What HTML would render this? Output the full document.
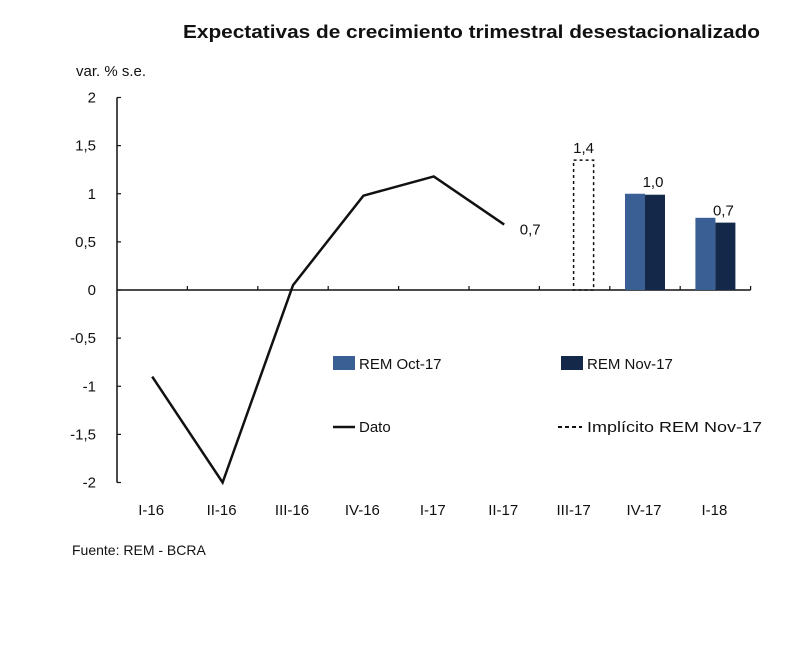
<!DOCTYPE html>
<html><head><meta charset="utf-8"><style>
body{margin:0;background:#fff}
svg{display:block;font-family:"Liberation Sans",sans-serif}
</style></head><body>
<svg width="800" height="665" id="chart">
<text x="183" y="38" font-size="18" font-weight="bold" fill="#111" textLength="577" lengthAdjust="spacingAndGlyphs">Expectativas de crecimiento trimestral desestacionalizado</text>
<text x="76" y="76" font-size="15" fill="#111">var. % s.e.</text>
<text x="72" y="555" font-size="14" fill="#111">Fuente: REM - BCRA</text>
<g id="axes"></g><g id="marks"></g>
<g>
<rect x="333" y="356" width="22" height="14" fill="#3a5f95"/>
<text x="359" y="369" font-size="15" fill="#111">REM Oct-17</text>
<rect x="561" y="356" width="22" height="14" fill="#14284a"/>
<text x="587" y="369" font-size="15" fill="#111">REM Nov-17</text>
<line x1="333" y1="427" x2="355" y2="427" stroke="#111" stroke-width="2.5"/>
<text x="359" y="432" font-size="15" fill="#111">Dato</text>
<line x1="558" y1="427" x2="582" y2="427" stroke="#111" stroke-width="2" stroke-dasharray="4,3"/>
<text x="587" y="432" font-size="15" fill="#111" textLength="175" lengthAdjust="spacingAndGlyphs">Implícito REM Nov-17</text>
</g>
</svg>
<script>
const categories=["I-16","II-16","III-16","IV-16","I-17","II-17","III-17","IV-17","I-18"];
const datoValues=[-0.9,-2.0,0.05,0.98,1.18,0.68];
const octValues=[null,null,null,null,null,null,null,1.0,0.75];
const novValues=[null,null,null,null,null,null,null,0.99,0.70];
const implicitValues=[null,null,null,null,null,null,1.35,null,null];
const yTicks=[2,1.5,1,0.5,0,-0.5,-1,-1.5,-2];
const yTickLabels=["2","1,5","1","0,5","0","-0,5","-1","-1,5","-2"];
const barLabels=[null,null,null,null,null,"0,7","1,4","1,0","0,7"];

const NS="http://www.w3.org/2000/svg";
const X0=117,CW=70.4;
const y=v=>290-v*96.25;
const xc=i=>X0+CW*(i+0.5);
function mk(tag,attrs,parent,text){const e=document.createElementNS(NS,tag);for(const k in attrs)e.setAttribute(k,attrs[k]);if(text!=null)e.textContent=text;parent.appendChild(e);return e;}
const axes=document.getElementById('axes'),marks=document.getElementById('marks');
let e=mk('line',{x1:X0,y1:y(2),x2:X0,y2:y(-2),stroke:'#111','stroke-width':1.5},axes);


e=mk('line',{x1:X0,y1:y(0),x2:X0+CW*categories.length,y2:y(0),stroke:'#111','stroke-width':1.5},axes);


yTicks.forEach((t,i)=>{
 mk('line',{x1:X0,y1:y(t),x2:X0+4,y2:y(t),stroke:'#111','stroke-width':1.2},axes);
 const l=mk('text',{x:96,y:y(t)+5,'font-size':15,'text-anchor':'end',fill:'#111'},axes,yTickLabels[i]);
 
 
});
categories.forEach((c,i)=>{
 const bx=X0+CW*(i+1);
 mk('line',{x1:bx,y1:y(0),x2:bx,y2:y(0)-4,stroke:'#111','stroke-width':1.2},axes);
 const l=mk('text',{x:xc(i)-1,y:515,'font-size':15,'text-anchor':'middle',fill:'#111'},axes,c);
 
 
});
categories.forEach((c,i)=>{
 if(octValues[i]!=null){const r=mk('rect',{x:xc(i)-20,y:y(octValues[i]),width:20,height:y(0)-y(octValues[i]),fill:'#3a5f95'},marks);
  
  }
 if(novValues[i]!=null){const r=mk('rect',{x:xc(i),y:y(novValues[i]),width:20,height:y(0)-y(novValues[i]),fill:'#14284a'},marks);
  
  }
 if(implicitValues[i]!=null){const r=mk('rect',{x:xc(i)-1,y:y(implicitValues[i]),width:20,height:y(0)-y(implicitValues[i]),fill:'none',stroke:'#111','stroke-width':1.5,'stroke-dasharray':'3,3'},marks);
  
  }
});
const pts=datoValues.map((v,i)=>xc(i)+','+y(v)).join(' ');
e=mk('polyline',{points:pts,fill:'none',stroke:'#111','stroke-width':2.5,'stroke-linejoin':'miter'},marks);


barLabels.forEach((t,i)=>{
 if(t==null)return;
 let lx,ly;
 if(i<datoValues.length){lx=xc(i)+26;ly=y(datoValues[i])+10;}
 else if(implicitValues[i]!=null){lx=xc(i)+9;ly=y(implicitValues[i])-7;}
 else{const v=Math.max(octValues[i],novValues[i]);lx=xc(i)+8;ly=y(i===8?novValues[i]:v)-7;}
 const l=mk('text',{x:lx,y:ly,'font-size':15,'text-anchor':'middle',fill:'#111'},marks,t);
 
 
});
</script>
</body></html>
